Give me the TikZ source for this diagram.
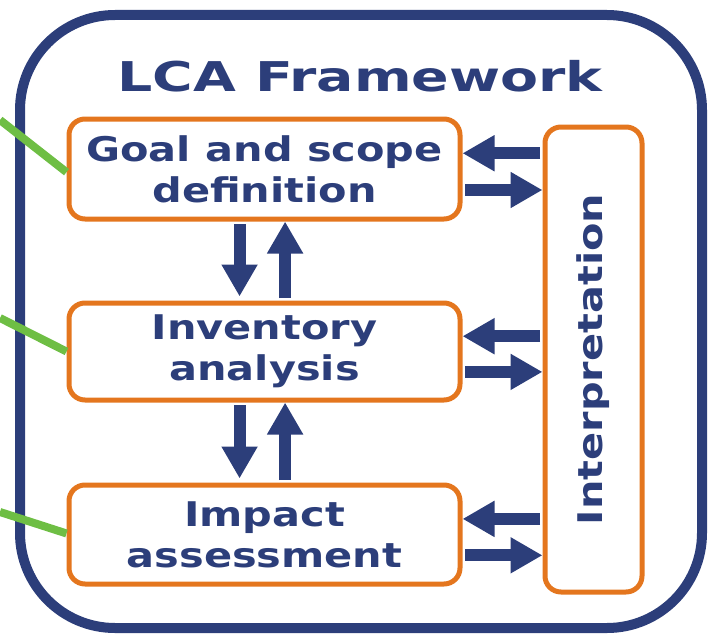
\documentclass[tikz,border=0pt]{standalone}
\usepackage{fontspec}
\newfontfamily\titlefont[FakeStretch=1.35]{DejaVu Sans}
\newfontfamily\boxfont[FakeStretch=1.22]{DejaVu Sans}
\usetikzlibrary{arrows.meta,calc}
\definecolor{lcablue}{RGB}{44,62,122}
\definecolor{lcaorange}{RGB}{228,118,30}
\definecolor{lcagreen}{RGB}{110,190,68}
\begin{document}
\begin{tikzpicture}[x=1pt,y=-1pt,
  box/.style={draw=lcaorange, line width=5pt, rounded corners=16pt, text=lcablue,
    font=\boxfont\bfseries\fontsize{34}{41}\selectfont, align=center, inner sep=0pt},
  bigarr/.style={draw=lcablue, line width=12pt, -{Triangle[length=32pt,width=34pt]}},
  greenline/.style={draw=lcagreen, line width=8pt}]
\useasboundingbox (0,0) rectangle (712,634);
% outer frame
\node[draw=lcablue, line width=10pt, rounded corners=95pt, minimum width=682pt,
  minimum height=613pt, inner sep=0pt] (frame) at (361,321.5) {};
% title
\node[text=lcablue, font=\titlefont\bfseries\fontsize{41}{41}\selectfont, anchor=base,
  inner sep=0pt] (title) at (360,92) {LCA Framework};
% boxes
\node[box, minimum width=391pt, minimum height=100pt] (goal) at (264.5,169) {Goal and scope\\definition};
\node[box, minimum width=391pt, minimum height=97pt] (inv) at (264.5,351.5) {Inventory\\analysis};
\node[box, minimum width=391pt, minimum height=99pt] (imp) at (264.5,534.5) {Impact\\assessment};
\node[box, minimum width=97pt, minimum height=465pt] (interp) at (593.5,359.5) {};
\node[text=lcablue, font=\boxfont\bfseries\fontsize{34}{41}\selectfont, rotate=90,
  inner sep=0pt] (interptext) at (interp.center) {Interpretation};
% green lines
\coordinate (s1) at (0,120);
\coordinate (s2) at (0,318);
\coordinate (s3) at (0,512);
\draw[greenline] (s1) -- ($(goal.north west)!0.53!(goal.south west)$);
\draw[greenline] (s2) -- ($(inv.north west)!0.5!(inv.south west)$);
\draw[greenline] (s3) -- ($(imp.north west)!0.49!(imp.south west)$);
% horizontal arrows
\foreach \b in {goal,inv,imp}{
  \coordinate (\b-a) at ($(\b.north east)!0.35!(\b.south east)$);
  \coordinate (\b-b) at ($(\b.north east)!0.70!(\b.south east)$);
  \draw[bigarr, shorten <=2.5pt] (interp.west |- \b-a) -- (\b-a);
  \draw[bigarr, shorten <=2.5pt] (\b-b) -- (interp.west |- \b-b);
}
% vertical arrows
\coordinate (gd) at ($(goal.south west)!0.437!(goal.south east)$);
\coordinate (gu) at ($(goal.south west)!0.552!(goal.south east)$);
\draw[bigarr, shorten >=4pt, shorten <=2.5pt] (gd) -- (gd |- inv.north);
\draw[bigarr, shorten <=2.5pt] (gu |- inv.north) -- (gu);
\coordinate (id) at ($(inv.south west)!0.437!(inv.south east)$);
\coordinate (iu) at ($(inv.south west)!0.552!(inv.south east)$);
\draw[bigarr, shorten >=4pt, shorten <=2.5pt] (id) -- (id |- imp.north);
\draw[bigarr, shorten <=2.5pt] (iu |- imp.north) -- (iu);
\end{tikzpicture}
\end{document}
